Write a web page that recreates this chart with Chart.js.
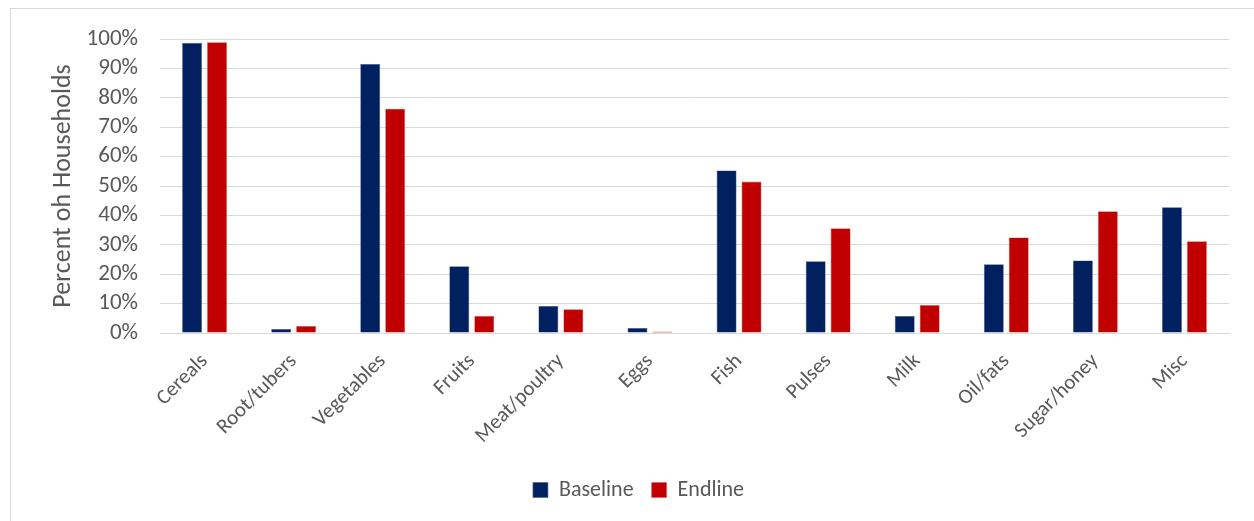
<!DOCTYPE html>
<html>
<head>
<meta charset="utf-8">
<script src="https://cdn.jsdelivr.net/npm/chart.js@4.4.1/dist/chart.umd.min.js"></script>
<style>
  html, body { margin: 0; padding: 0; background: #fff; overflow: hidden; }
  #frame { position: absolute; left: 10px; top: 8px; width: 1270px; height: 540px; border: 1px solid #d9d9d9; box-sizing: border-box; }
  #wrap { position: absolute; left: 0; top: 0; width: 1254px; height: 521px; }
</style>
</head>
<body>
<div id="frame"></div>
<div id="wrap"><canvas id="c" width="1254" height="521"></canvas></div>
<script>
const categories = ["Cereals", "Root/tubers", "Vegetables", "Fruits", "Meat/poultry", "Eggs", "Fish", "Pulses", "Milk", "Oil/fats", "Sugar/honey", "Misc"];
const baseline = [98.7, 1.4, 91.5, 22.7, 9.2, 1.7, 55.3, 24.4, 5.8, 23.4, 24.7, 42.8];
const endline  = [98.9, 2.4, 76.3, 5.8, 8.1, 0.5, 51.5, 35.6, 9.5, 32.5, 41.4, 31.2];
const seriesNames = ["Baseline", "Endline"];
const yTitle = "Percent oh Households";

const textColor = "#595959";
const fontFamily = "Calibri, Carlito, 'Open Sans', 'Noto Sans', sans-serif";

new Chart(document.getElementById("c"), {
  type: "bar",
  data: {
    labels: categories,
    datasets: [
      { label: seriesNames[0], data: baseline, backgroundColor: "#002060", borderColor: "#4a5f8f", borderWidth: 0.6 },
      { label: seriesNames[1], data: endline, backgroundColor: "#c00000", borderColor: "#e06060", borderWidth: 0.6 }
    ]
  },
  options: {
    responsive: false,
    animation: false,
    events: [],
    layout: { padding: { left: 48, right: 25, top: 39, bottom: 10 } },
    datasets: { bar: { categoryPercentage: 0.56, barPercentage: 0.8 } },
    plugins: {
      legend: {
        position: "bottom",
        labels: {
          color: textColor,
          font: { family: fontFamily, size: 22 },
          boxWidth: 15, boxHeight: 15, padding: 18,
          useBorderRadius: false
        }
      },
      tooltip: { enabled: false }
    },
    scales: {
      x: {
        grid: { display: false, drawTicks: false },
        border: { display: true, color: "#d9d9d9", width: 1 },
        ticks: {
          color: textColor,
          font: { family: fontFamily, size: 21 },
          minRotation: 45, maxRotation: 45,
          padding: 16,
          autoSkip: false
        },
        afterFit: s => { s.height = 128; }
      },
      y: {
        min: 0, max: 100,
        grid: { color: "#d9d9d9", lineWidth: 1, drawTicks: false },
        border: { display: false },
        ticks: {
          stepSize: 10,
          autoSkip: false,
          color: textColor,
          font: { family: fontFamily, size: 23, lineHeight: 1 },
          padding: 22,
          callback: v => v + "%"
        },
        title: {
          display: true,
          text: yTitle,
          color: textColor,
          font: { family: fontFamily, size: 26 },
          padding: { top: 0, bottom: 10 }
        },
        afterFit: s => { s.width = 112; }
      }
    }
  }
});
</script>
</body>
</html>
